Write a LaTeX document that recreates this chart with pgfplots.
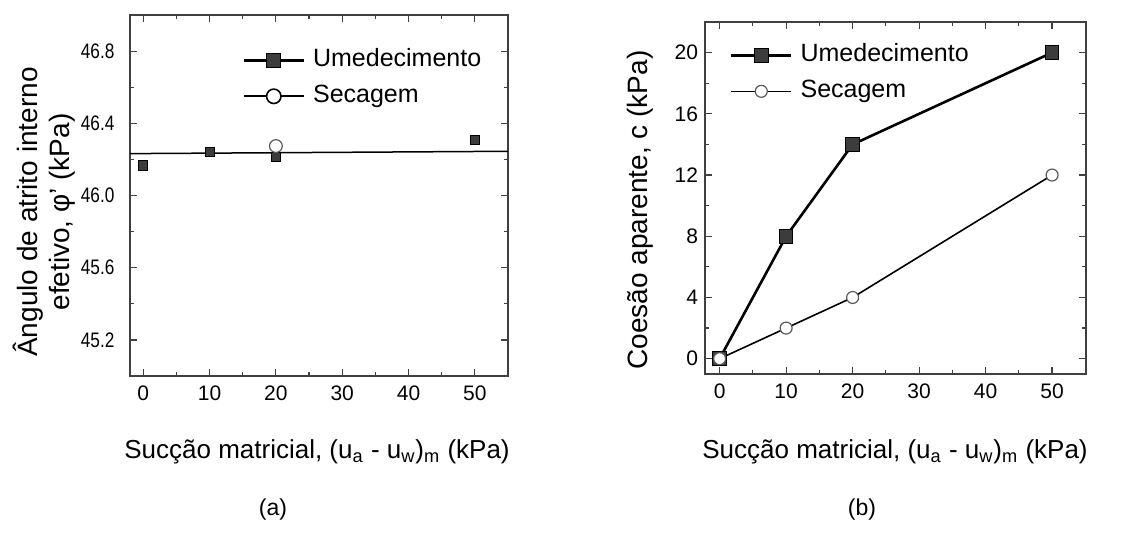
\documentclass[border=0pt]{standalone}
\usepackage{fontspec}
\setmainfont{Liberation Sans}
\usepackage{pgfplots}
\pgfplotsset{compat=1.18}
\definecolor{sqfill}{HTML}{3C3C3C}
\definecolor{axgray}{HTML}{404040}
\definecolor{circedge}{HTML}{5A5A5A}

% 1 px of the reference = 0.5pt
\pgfplotsset{
  panel/.style={
    scale only axis,
    anchor=south west,
    axis line style={axgray, line width=0.8pt},
    tick style={axgray, line width=0.6pt},
    major tick length=3.5pt,
    minor tick length=2pt,
    tick align=inside,
    xtick={0,10,...,50},
    minor x tick num=1,
    minor y tick num=1,
    tick label style={font=\fontsize{10.5}{12}\selectfont},
    xticklabel style={yshift=-1.5pt},
    /pgf/number format/assume math mode=true,
    legend cell align=left,
    legend style={draw=none, fill=none, inner sep=0pt, row sep=6.5pt,
      font=\fontsize{12.5}{14}\selectfont,
      nodes={inner sep=0pt, text height=9pt, text depth=2.5pt},
      /tikz/every odd column/.append style={column sep=4pt}},
    legend image code/.code={
      \draw[mark repeat=2, mark phase=2, ##1] plot coordinates {(0pt,0pt) (15pt,0pt) (30pt,0pt)};
    },
  },
}

\begin{document}
\begin{tikzpicture}
\useasboundingbox (0,0) rectangle (570pt,269pt);

% (a) friction angle
\begin{axis}[panel, at={(65pt,81pt)}, width=189pt, height=180.5pt,
  xmin=-2, xmax=55, ymin=45, ymax=47,
  ytick={45.2,45.6,46.0,46.4,46.8},
  yticklabels={45.2,45.6,46.0,46.4,46.8},
  yticklabel style={font=\fontsize{10.5}{12}\selectfont, xscale=0.82, anchor=east, xshift=-6pt},
  legend style={at={(axis cs:14.9,46.815)}, anchor=north west}]
\addlegendimage{black, line width=1.3pt, mark=square*, mark size=3.6pt, mark options={fill=sqfill, draw=black, line width=0.5pt}}
\addlegendentry{Umedecimento}
\addlegendimage{black, line width=0.8pt, mark=*, mark size=3.6pt, mark options={fill=white, draw=black, line width=0.8pt}}
\addlegendentry{Secagem}
\addplot[black, line width=0.75pt, forget plot] coordinates {(-2,46.232) (55,46.245)};
\addplot[only marks, mark=square*, mark size=2.3pt, mark options={fill=sqfill, draw=black, line width=0.4pt}, forget plot]
  coordinates {(0,46.167) (10,46.24) (20,46.212) (50,46.31)};
\addplot[only marks, mark=*, mark size=3.2pt, mark options={fill=white, draw=circedge, line width=0.6pt}, forget plot]
  coordinates {(20,46.274)};
\end{axis}

% (b) cohesion
\begin{axis}[panel, at={(352.5pt,82pt)}, width=190.5pt, height=176pt,
  xmin=-2.2, xmax=55.1, ymin=-1, ymax=22,
  ytick={0,4,...,20},
  legend style={at={(axis cs:1.5,20.6)}, anchor=north west}]
\addplot[black, line width=1.3pt, mark=square*, mark size=3.4pt, mark options={fill=sqfill, draw=black, line width=0.5pt}]
  coordinates {(0,0) (10,8) (20,14) (50,20)};
\addlegendentry{Umedecimento}
\addplot[black, line width=0.8pt, mark=*, mark size=3pt, mark options={fill=white, draw=circedge, line width=0.6pt}]
  coordinates {(0,0) (10,2) (20,4) (50,12)};
\addlegendentry{Secagem}
\end{axis}

\node[font=\fontsize{13}{15}\selectfont] at (158.5pt,43pt) {Sucção matricial, (u\textsubscript{a} - u\textsubscript{w})\textsubscript{m} (kPa)};
\node[font=\fontsize{13}{15}\selectfont] at (447.5pt,43pt) {Sucção matricial, (u\textsubscript{a} - u\textsubscript{w})\textsubscript{m} (kPa)};
\node[rotate=90, font=\fontsize{14}{17}\selectfont] at (14pt,163pt) {Ângulo de atrito interno};
\node[rotate=90, font=\fontsize{14}{17}\selectfont] at (31pt,163pt) {efetivo, φ' (kPa)};
\node[rotate=90, font=\fontsize{14}{17}\selectfont] at (320pt,164pt) {Coesão aparente, c (kPa)};
\node[font=\fontsize{11.5}{14}\selectfont] at (136.5pt,14pt) {(a)};
\node[font=\fontsize{11.5}{14}\selectfont] at (431pt,14pt) {(b)};
\end{tikzpicture}
\end{document}
